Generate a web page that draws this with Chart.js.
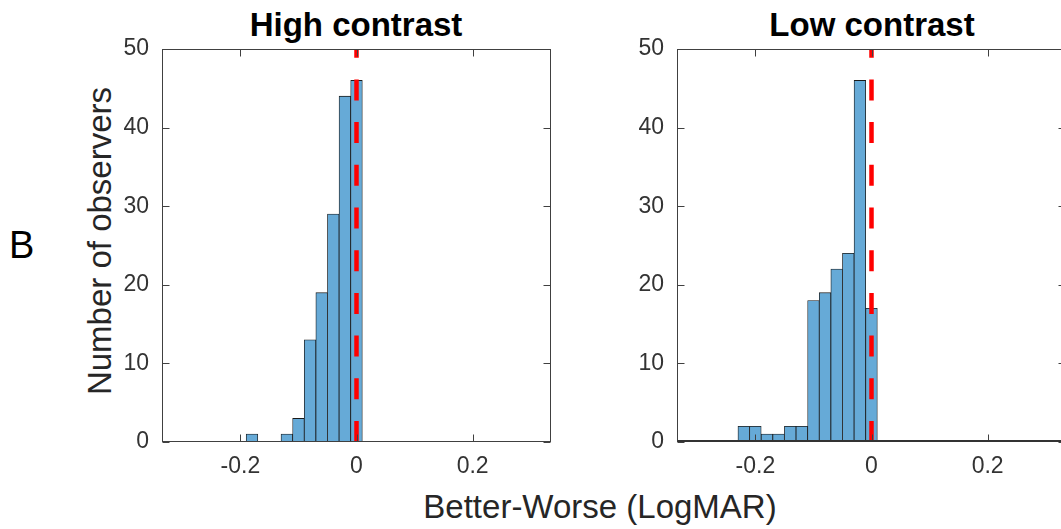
<!DOCTYPE html>
<html>
<head>
<meta charset="utf-8">
<script src="https://cdn.jsdelivr.net/npm/chart.js@4/dist/chart.umd.min.js"></script>
<style>
  html, body { margin: 0; padding: 0; background: #fff; }
  #wrap { position: relative; width: 1061px; height: 529px; overflow: hidden; background: #fff;
          font-family: Arial, "Liberation Sans", sans-serif; }
  canvas { position: absolute; top: 0; }
  .txt { position: absolute; white-space: nowrap; line-height: 1; }
  .ttl { font-weight: bold; font-size: 33px; color: #000; transform: translateX(-50%); }
</style>
</head>
<body>
<div id="wrap">
  <div class="txt" style="left:9px;top:226px;font-size:38px;color:#000">B</div>
  <div class="txt" id="ylab" style="font-size:33px;color:#262626">Number of observers</div>
  <div class="txt ttl" style="left:356px;top:8px">High contrast</div>
  <div class="txt ttl" style="left:872px;top:8px">Low contrast</div>
  <div class="txt" style="left:600px;top:490px;font-size:33px;color:#262626;transform:translateX(-50%)">Better-Worse (LogMAR)</div>
  <canvas id="c-high" width="470" height="529" style="left:100px"></canvas>
  <canvas id="c-low" width="470" height="529" style="left:615px"></canvas>
</div>
<script>
// Histogram bins (centres, width 0.02 LogMAR) and observer counts
const binCenters = [-0.22, -0.20, -0.18, -0.16, -0.14, -0.12, -0.10, -0.08, -0.06, -0.04, -0.02, 0.00];
const highCounts = [0, 0, 1, 0, 0, 1, 3, 13, 19, 29, 44, 46];
const lowCounts  = [2, 2, 1, 1, 2, 2, 18, 19, 22, 24, 46, 17];

// Axis setup
const xTickValues = [-0.2, 0, 0.2];
const yTickValues = [0, 10, 20, 30, 40, 50];
const xLimits = [-0.335, 0.335];
const yLimits = [0, 50];
const refLineX = 0;

// place the rotated y label so its centre sits left of the first panel
const ylab = document.getElementById('ylab');
ylab.style.left = '98.5px';
ylab.style.top = '241px';
ylab.style.transform = 'translate(-50%, -50%) rotate(-90deg)';

// MATLAB-like box with inward ticks plus the dashed zero line, drawn over the bars
const matlabAxes = {
  id: 'matlabAxes',
  afterDatasetsDraw(chart, args, opts) {
    const { ctx, chartArea: a, scales: { x, y } } = chart;
    ctx.save();

    ctx.beginPath();
    ctx.rect(a.left, a.top, a.width, a.height);
    ctx.clip();
    const rx = x.getPixelForValue(refLineX);
    ctx.strokeStyle = '#ff0000';
    ctx.lineWidth = 4.5;
    ctx.setLineDash([21, 21.7]);
    ctx.beginPath();
    ctx.moveTo(rx, a.bottom);
    ctx.lineTo(rx, a.top);
    ctx.stroke();
    ctx.restore();

    ctx.save();
    ctx.setLineDash([]);
    ctx.strokeStyle = '#404040';
    ctx.lineWidth = 1;
    const L = Math.round(a.left) + 0.5, R = Math.round(a.right) - 0.5;
    const T = Math.round(a.top) + 0.5, B = Math.round(a.bottom) - 0.5;
    ctx.strokeRect(L, T, R - L, B - T);

    const tl = 7;
    ctx.beginPath();
    xTickValues.forEach(v => {
      const px = Math.round(x.getPixelForValue(v)) + 0.5;
      ctx.moveTo(px, B); ctx.lineTo(px, B - tl);
      ctx.moveTo(px, T); ctx.lineTo(px, T + tl);
    });
    yTickValues.forEach(v => {
      const py = Math.round(y.getPixelForValue(v)) + 0.5;
      ctx.moveTo(L, py); ctx.lineTo(L + tl, py);
      ctx.moveTo(R, py); ctx.lineTo(R - tl, py);
    });
    ctx.stroke();

    if (opts.darkBase) {
      ctx.strokeStyle = '#333';
      ctx.lineWidth = 2;
      ctx.beginPath();
      ctx.moveTo(L, B - 0.5);
      ctx.lineTo(R, B - 0.5);
      ctx.stroke();
    }
    ctx.restore();
  }
};

const tickFont = { family: 'Arial, "Liberation Sans", sans-serif', size: 23 };

function mkHist(id, counts, darkBase) {
  return new Chart(document.getElementById(id), {
    type: 'bar',
    data: {
      datasets: [{
        data: binCenters.map((c, i) => ({ x: c, y: counts[i] })),
        backgroundColor: '#66aad7',
        borderColor: '#1a1a1a',
        borderWidth: 0.8,
        borderSkipped: false,
        barPercentage: 1,
        categoryPercentage: 1,
      }],
    },
    options: {
      responsive: false,
      animation: false,
      layout: { padding: { top: 49, right: 19, bottom: 0, left: 0 } },
      plugins: {
        legend: { display: false },
        tooltip: { enabled: false },
        matlabAxes: { darkBase },
      },
      scales: {
        x: {
          type: 'linear',
          min: xLimits[0],
          max: xLimits[1],
          offset: false,
          grid: { display: false, drawTicks: false },
          border: { display: false },
          afterBuildTicks: s => { s.ticks = xTickValues.map(v => ({ value: v })); },
          afterFit: s => { s.height = 87; },
          ticks: {
            padding: 11,
            color: '#333',
            font: tickFont,
            maxRotation: 0,
            callback: v => (v === 0 ? '0' : v.toFixed(1)),
          },
        },
        y: {
          min: yLimits[0],
          max: yLimits[1],
          grid: { display: false, drawTicks: false },
          border: { display: false },
          afterBuildTicks: s => { s.ticks = yTickValues.map(v => ({ value: v })); },
          afterFit: s => { s.width = 62; },
          ticks: { padding: 13, color: '#333', font: tickFont },
        },
      },
    },
    plugins: [matlabAxes],
  });
}

mkHist('c-high', highCounts, false);
mkHist('c-low', lowCounts, true);
</script>
</body>
</html>
